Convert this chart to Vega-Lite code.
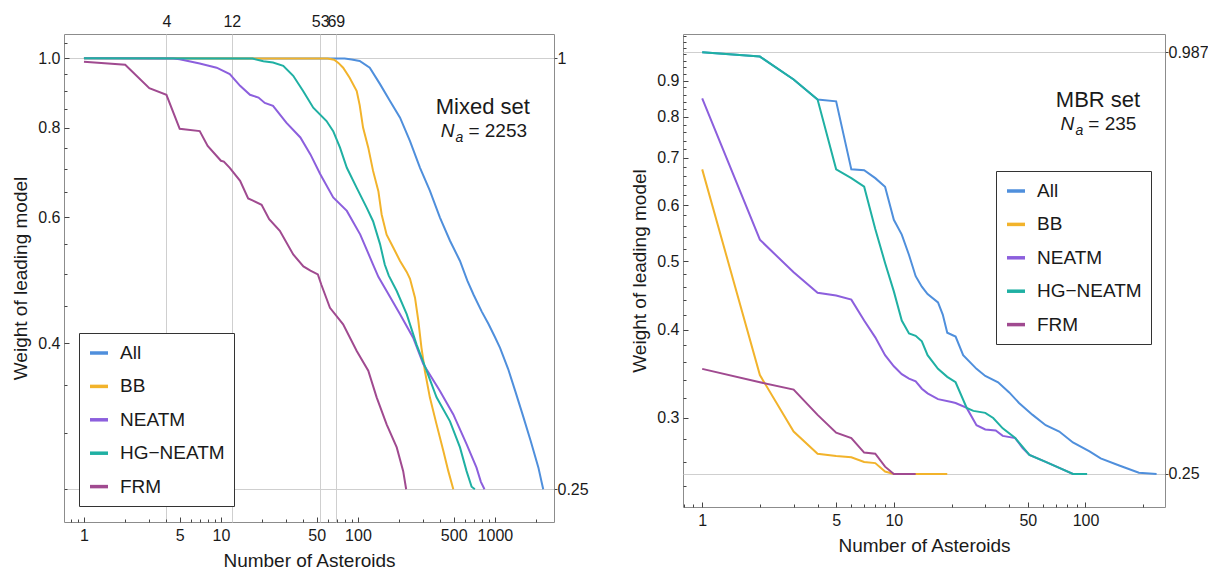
{
  "$schema": "https://vega.github.io/schema/vega-lite/v6.json",
  "background": "white",
  "padding": {"left": 11, "top": 12, "right": 0, "bottom": 0},
  "spacing": 41,
  "config": {
    "font": "Liberation Sans",
    "view": {"stroke": "#8c8c8c", "strokeWidth": 1},
    "axis": {"domain": false, "labelFont": "Liberation Sans", "labelFontSize": 16, "labelColor": "#1a1a1a", "tickColor": "#444444", "titleFont": "Liberation Sans", "titleFontSize": 19, "titleFontWeight": "normal", "titleColor": "#1a1a1a", "labelOverlap": false, "labelFlush": false, "labelBound": false, "gridColor": "#cfcfcf", "gridWidth": 1},
    "legend": {"labelFont": "Liberation Sans", "labelFontSize": 19, "labelColor": "#1a1a1a", "symbolType": "stroke", "symbolStrokeWidth": 3.5, "symbolSize": 324, "strokeColor": "#333333", "padding": 9, "rowPadding": 12.4, "labelOffset": 10, "fillColor": "white"}
  },
  "resolve": {"scale": {"color": "independent"}, "legend": {"color": "independent"}},
  "datasets": {
    "left": [
      {"m":"All","n":1,"w":1.0},{"m":"All","n":80,"w":0.999},{"m":"All","n":90,"w":0.996},{"m":"All","n":103,"w":0.991},{"m":"All","n":122,"w":0.970},{"m":"All","n":145,"w":0.92},{"m":"All","n":171,"w":0.872},{"m":"All","n":203,"w":0.826},{"m":"All","n":240,"w":0.766},{"m":"All","n":284,"w":0.703},{"m":"All","n":335,"w":0.653},{"m":"All","n":397,"w":0.599},{"m":"All","n":470,"w":0.556},{"m":"All","n":556,"w":0.521},{"m":"All","n":629,"w":0.489},{"m":"All","n":700,"w":0.467},{"m":"All","n":800,"w":0.443},{"m":"All","n":900,"w":0.425},{"m":"All","n":1000,"w":0.408},{"m":"All","n":1090,"w":0.394},{"m":"All","n":1250,"w":0.368},{"m":"All","n":1406,"w":0.343},{"m":"All","n":1600,"w":0.317},{"m":"All","n":1825,"w":0.292},{"m":"All","n":2078,"w":0.268},{"m":"All","n":2200,"w":0.255},{"m":"All","n":2253,"w":0.25},
      {"m":"BB","n":1,"w":1.0},{"m":"BB","n":60,"w":0.999},{"m":"BB","n":67,"w":0.995},{"m":"BB","n":72,"w":0.985},{"m":"BB","n":78,"w":0.970},{"m":"BB","n":87,"w":0.939},{"m":"BB","n":98,"w":0.90},{"m":"BB","n":103,"w":0.86},{"m":"BB","n":109,"w":0.80},{"m":"BB","n":119,"w":0.75},{"m":"BB","n":129,"w":0.696},{"m":"BB","n":141,"w":0.652},{"m":"BB","n":149,"w":0.605},{"m":"BB","n":162,"w":0.567},{"m":"BB","n":181,"w":0.544},{"m":"BB","n":203,"w":0.521},{"m":"BB","n":227,"w":0.503},{"m":"BB","n":240,"w":0.492},{"m":"BB","n":261,"w":0.463},{"m":"BB","n":276,"w":0.430},{"m":"BB","n":291,"w":0.394},{"m":"BB","n":308,"w":0.366},{"m":"BB","n":335,"w":0.336},{"m":"BB","n":375,"w":0.308},{"m":"BB","n":420,"w":0.283},{"m":"BB","n":457,"w":0.265},{"m":"BB","n":497,"w":0.25},
      {"m":"NEATM","n":1,"w":1.0},{"m":"NEATM","n":4.5,"w":0.999},{"m":"NEATM","n":5,"w":0.997},{"m":"NEATM","n":7,"w":0.983},{"m":"NEATM","n":9.3,"w":0.970},{"m":"NEATM","n":11.6,"w":0.95},{"m":"NEATM","n":13.8,"w":0.915},{"m":"NEATM","n":16.3,"w":0.889},{"m":"NEATM","n":18.8,"w":0.881},{"m":"NEATM","n":20.9,"w":0.866},{"m":"NEATM","n":24,"w":0.858},{"m":"NEATM","n":30,"w":0.813},{"m":"NEATM","n":38,"w":0.775},{"m":"NEATM","n":45,"w":0.734},{"m":"NEATM","n":53,"w":0.689},{"m":"NEATM","n":66,"w":0.639},{"m":"NEATM","n":83,"w":0.612},{"m":"NEATM","n":104,"w":0.567},{"m":"NEATM","n":129,"w":0.515},{"m":"NEATM","n":141,"w":0.495},{"m":"NEATM","n":162,"w":0.473},{"m":"NEATM","n":203,"w":0.439},{"m":"NEATM","n":253,"w":0.407},{"m":"NEATM","n":300,"w":0.374},{"m":"NEATM","n":397,"w":0.343},{"m":"NEATM","n":497,"w":0.318},{"m":"NEATM","n":621,"w":0.289},{"m":"NEATM","n":734,"w":0.268},{"m":"NEATM","n":790,"w":0.256},{"m":"NEATM","n":839,"w":0.25},
      {"m":"HG−NEATM","n":1,"w":1.0},{"m":"HG−NEATM","n":17,"w":0.999},{"m":"HG−NEATM","n":20.4,"w":0.99},{"m":"HG−NEATM","n":24,"w":0.986},{"m":"HG−NEATM","n":28.5,"w":0.976},{"m":"HG−NEATM","n":33.7,"w":0.945},{"m":"HG−NEATM","n":39.8,"w":0.90},{"m":"HG−NEATM","n":47.2,"w":0.853},{"m":"HG−NEATM","n":59,"w":0.817},{"m":"HG−NEATM","n":66,"w":0.791},{"m":"HG−NEATM","n":74,"w":0.75},{"m":"HG−NEATM","n":83,"w":0.703},{"m":"HG−NEATM","n":98,"w":0.659},{"m":"HG−NEATM","n":116,"w":0.618},{"m":"HG−NEATM","n":129,"w":0.592},{"m":"HG−NEATM","n":145,"w":0.55},{"m":"HG−NEATM","n":157,"w":0.515},{"m":"HG−NEATM","n":168,"w":0.497},{"m":"HG−NEATM","n":192,"w":0.473},{"m":"HG−NEATM","n":227,"w":0.439},{"m":"HG−NEATM","n":268,"w":0.398},{"m":"HG−NEATM","n":317,"w":0.366},{"m":"HG−NEATM","n":375,"w":0.336},{"m":"HG−NEATM","n":470,"w":0.311},{"m":"HG−NEATM","n":556,"w":0.286},{"m":"HG−NEATM","n":621,"w":0.265},{"m":"HG−NEATM","n":676,"w":0.252},{"m":"HG−NEATM","n":714,"w":0.25},
      {"m":"FRM","n":1,"w":0.989},{"m":"FRM","n":2,"w":0.979},{"m":"FRM","n":3,"w":0.908},{"m":"FRM","n":4,"w":0.889},{"m":"FRM","n":5,"w":0.797},{"m":"FRM","n":7,"w":0.791},{"m":"FRM","n":8,"w":0.754},{"m":"FRM","n":10,"w":0.719},{"m":"FRM","n":10.5,"w":0.717},{"m":"FRM","n":11.6,"w":0.703},{"m":"FRM","n":13.8,"w":0.674},{"m":"FRM","n":15.8,"w":0.637},{"m":"FRM","n":17,"w":0.633},{"m":"FRM","n":19.8,"w":0.624},{"m":"FRM","n":22.5,"w":0.596},{"m":"FRM","n":26.9,"w":0.574},{"m":"FRM","n":33.7,"w":0.532},{"m":"FRM","n":40,"w":0.512},{"m":"FRM","n":45,"w":0.505},{"m":"FRM","n":51,"w":0.499},{"m":"FRM","n":54,"w":0.483},{"m":"FRM","n":62.5,"w":0.448},{"m":"FRM","n":78,"w":0.425},{"m":"FRM","n":98,"w":0.390},{"m":"FRM","n":119,"w":0.366},{"m":"FRM","n":137,"w":0.336},{"m":"FRM","n":162,"w":0.308},{"m":"FRM","n":192,"w":0.286},{"m":"FRM","n":214,"w":0.265},{"m":"FRM","n":225,"w":0.25}
    ],
    "right": [
      {"m":"All","n":1,"w":0.987},{"m":"All","n":2,"w":0.973},{"m":"All","n":3,"w":0.903},{"m":"All","n":4,"w":0.846},{"m":"All","n":5,"w":0.841},{"m":"All","n":6,"w":0.674},{"m":"All","n":7,"w":0.672},{"m":"All","n":8,"w":0.655},{"m":"All","n":9,"w":0.637},{"m":"All","n":10,"w":0.572},{"m":"All","n":11,"w":0.545},{"m":"All","n":12,"w":0.51},{"m":"All","n":13,"w":0.476},{"m":"All","n":14,"w":0.46},{"m":"All","n":15,"w":0.449},{"m":"All","n":17,"w":0.437},{"m":"All","n":18,"w":0.42},{"m":"All","n":19,"w":0.396},{"m":"All","n":21,"w":0.391},{"m":"All","n":23,"w":0.368},{"m":"All","n":27,"w":0.352},{"m":"All","n":30,"w":0.344},{"m":"All","n":35,"w":0.337},{"m":"All","n":40,"w":0.326},{"m":"All","n":45,"w":0.315},{"m":"All","n":53,"w":0.303},{"m":"All","n":62,"w":0.293},{"m":"All","n":73,"w":0.287},{"m":"All","n":86,"w":0.277},{"m":"All","n":105,"w":0.269},{"m":"All","n":120,"w":0.263},{"m":"All","n":150,"w":0.257},{"m":"All","n":190,"w":0.251},{"m":"All","n":235,"w":0.25},
      {"m":"BB","n":1,"w":0.674},{"m":"BB","n":2,"w":0.345},{"m":"BB","n":3,"w":0.287},{"m":"BB","n":4,"w":0.267},{"m":"BB","n":5,"w":0.265},{"m":"BB","n":6,"w":0.264},{"m":"BB","n":7,"w":0.26},{"m":"BB","n":8,"w":0.259},{"m":"BB","n":9,"w":0.252},{"m":"BB","n":10,"w":0.25},{"m":"BB","n":19,"w":0.25},
      {"m":"NEATM","n":1,"w":0.849},{"m":"NEATM","n":2,"w":0.536},{"m":"NEATM","n":3,"w":0.482},{"m":"NEATM","n":4,"w":0.451},{"m":"NEATM","n":5,"w":0.447},{"m":"NEATM","n":6,"w":0.441},{"m":"NEATM","n":7,"w":0.412},{"m":"NEATM","n":8,"w":0.39},{"m":"NEATM","n":9,"w":0.368},{"m":"NEATM","n":10,"w":0.355},{"m":"NEATM","n":11,"w":0.346},{"m":"NEATM","n":12,"w":0.341},{"m":"NEATM","n":13,"w":0.338},{"m":"NEATM","n":14,"w":0.33},{"m":"NEATM","n":15,"w":0.325},{"m":"NEATM","n":17,"w":0.319},{"m":"NEATM","n":20,"w":0.316},{"m":"NEATM","n":21,"w":0.315},{"m":"NEATM","n":24,"w":0.31},{"m":"NEATM","n":27,"w":0.293},{"m":"NEATM","n":30,"w":0.289},{"m":"NEATM","n":34,"w":0.288},{"m":"NEATM","n":37,"w":0.283},{"m":"NEATM","n":43,"w":0.281},{"m":"NEATM","n":47,"w":0.272},{"m":"NEATM","n":51,"w":0.266},{"m":"NEATM","n":62,"w":0.26},{"m":"NEATM","n":73,"w":0.255},{"m":"NEATM","n":86,"w":0.25},{"m":"NEATM","n":95,"w":0.25},
      {"m":"HG−NEATM","n":1,"w":0.987},{"m":"HG−NEATM","n":2,"w":0.973},{"m":"HG−NEATM","n":3,"w":0.903},{"m":"HG−NEATM","n":4,"w":0.846},{"m":"HG−NEATM","n":5,"w":0.674},{"m":"HG−NEATM","n":6,"w":0.655},{"m":"HG−NEATM","n":7,"w":0.637},{"m":"HG−NEATM","n":8,"w":0.555},{"m":"HG−NEATM","n":9,"w":0.497},{"m":"HG−NEATM","n":10,"w":0.453},{"m":"HG−NEATM","n":11,"w":0.412},{"m":"HG−NEATM","n":12,"w":0.395},{"m":"HG−NEATM","n":13,"w":0.392},{"m":"HG−NEATM","n":14,"w":0.385},{"m":"HG−NEATM","n":15,"w":0.368},{"m":"HG−NEATM","n":17,"w":0.352},{"m":"HG−NEATM","n":19,"w":0.343},{"m":"HG−NEATM","n":21,"w":0.337},{"m":"HG−NEATM","n":24,"w":0.31},{"m":"HG−NEATM","n":26,"w":0.307},{"m":"HG−NEATM","n":30,"w":0.305},{"m":"HG−NEATM","n":33,"w":0.30},{"m":"HG−NEATM","n":37,"w":0.29},{"m":"HG−NEATM","n":43,"w":0.281},{"m":"HG−NEATM","n":51,"w":0.266},{"m":"HG−NEATM","n":62,"w":0.26},{"m":"HG−NEATM","n":73,"w":0.255},{"m":"HG−NEATM","n":86,"w":0.25},{"m":"HG−NEATM","n":102,"w":0.25},
      {"m":"FRM","n":1,"w":0.352},{"m":"FRM","n":2,"w":0.337},{"m":"FRM","n":3,"w":0.329},{"m":"FRM","n":4,"w":0.303},{"m":"FRM","n":5,"w":0.286},{"m":"FRM","n":6,"w":0.281},{"m":"FRM","n":7,"w":0.268},{"m":"FRM","n":8,"w":0.267},{"m":"FRM","n":9,"w":0.256},{"m":"FRM","n":10,"w":0.25},{"m":"FRM","n":13,"w":0.25}
    ]
  },
  "hconcat": [
    {
      "width": 490,
      "height": 488,
      "data": {"name": "left"},
      "resolve": {"axis": {"x": "independent", "y": "independent"}},
      "layer": [
        {
          "mark": {"type": "line", "opacity": 0},
          "encoding": {
            "x": {"field": "n", "type": "quantitative", "scale": {"type": "log", "domain": [0.715, 2700], "nice": false}, "axis": {"orient": "bottom", "values": [0.8,0.9,2,3,4,6,7,8,9,20,30,40,60,70,80,90,200,300,400,600,700,800,900,2000], "labels": false, "tickSize": -3, "grid": false, "title": null}},
            "y": {"field": "w", "type": "quantitative", "scale": {"type": "log", "domain": [0.225, 1.081], "nice": false}, "axis": {"orient": "left", "values": [0.25,0.3,0.35,0.45,0.5,0.55,0.65,0.7,0.75,0.85,0.9,0.95,1.05], "labels": false, "tickSize": -3, "grid": false, "title": null}},
            "detail": {"field": "m"}
          }
        },
        {
          "mark": {"type": "line", "opacity": 0},
          "encoding": {
            "x": {"field": "n", "type": "quantitative", "scale": {"type": "log", "domain": [0.715, 2700], "nice": false}, "axis": {"orient": "top", "values": [4,12,53,69], "format": "d", "tickSize": 0, "labelPadding": 5, "grid": true, "title": null}},
            "y": {"field": "w", "type": "quantitative", "scale": {"type": "log", "domain": [0.225, 1.081], "nice": false}, "axis": {"orient": "right", "values": [0.25, 1], "format": "~g", "tickSize": 3, "labelPadding": 0, "grid": true, "title": null}},
            "detail": {"field": "m"}
          }
        },
        {
          "mark": {"type": "line", "strokeWidth": 2},
          "encoding": {
            "x": {"field": "n", "type": "quantitative", "scale": {"type": "log", "domain": [0.715, 2700], "nice": false}, "axis": {"orient": "bottom", "values": [1,5,10,50,100,500,1000], "format": "d", "tickSize": -5, "labelPadding": 10, "grid": false, "title": "Number of Asteroids", "titlePadding": 8}},
            "y": {"field": "w", "type": "quantitative", "scale": {"type": "log", "domain": [0.225, 1.081], "nice": false}, "axis": {"orient": "left", "values": [0.4,0.6,0.8,1.0], "format": ".1f", "tickSize": -5, "labelPadding": 9, "grid": false, "title": "Weight of leading model", "titlePadding": 7}},
            "color": {"field": "m", "type": "nominal", "sort": null, "scale": {"domain": ["All","BB","NEATM","HG−NEATM","FRM"], "range": ["#4f8fdc","#f2b32b","#8c5fdd","#1fb0a3","#a04a90"]}, "legend": {"title": null, "orient": "none", "legendX": 15, "legendY": 299}}
          }
        },
        {
          "data": {"values": [{}]},
          "mark": {"type": "text", "align": "right", "baseline": "alphabetic", "fontSize": 22, "font": "Liberation Sans", "color": "#1a1a1a"},
          "encoding": {
            "x": {"datum": 1800, "type": "quantitative", "axis": null},
            "y": {"datum": 0.835, "type": "quantitative", "axis": null},
            "text": {"value": "Mixed set"}
          }
        },
        {
          "data": {"values": [{}]},
          "mark": {"type": "text", "align": "right", "baseline": "alphabetic", "fontSize": 19, "fontStyle": "italic", "dx": -9, "font": "Liberation Sans", "color": "#1a1a1a"},
          "encoding": {
            "x": {"datum": 589, "type": "quantitative", "axis": null},
            "y": {"datum": 0.775, "type": "quantitative", "axis": null},
            "text": {"value": "N"}
          }
        },
        {
          "data": {"values": [{}]},
          "mark": {"type": "text", "align": "right", "baseline": "alphabetic", "fontSize": 14, "fontStyle": "italic", "dy": 5, "font": "Liberation Sans", "color": "#1a1a1a"},
          "encoding": {
            "x": {"datum": 589, "type": "quantitative", "axis": null},
            "y": {"datum": 0.775, "type": "quantitative", "axis": null},
            "text": {"value": "a"}
          }
        },
        {
          "data": {"values": [{}]},
          "mark": {"type": "text", "align": "left", "baseline": "alphabetic", "fontSize": 19, "dx": 5, "font": "Liberation Sans", "color": "#1a1a1a"},
          "encoding": {
            "x": {"datum": 589, "type": "quantitative", "axis": null},
            "y": {"datum": 0.775, "type": "quantitative", "axis": null},
            "text": {"value": "= 2253"}
          }
        }
      ]
    },
    {
      "width": 482,
      "height": 473,
      "data": {"name": "right"},
      "resolve": {"axis": {"x": "independent", "y": "independent"}},
      "layer": [
        {
          "mark": {"type": "line", "opacity": 0},
          "encoding": {
            "x": {"field": "n", "type": "quantitative", "scale": {"type": "log", "domain": [0.794, 260], "nice": false}, "axis": {"orient": "bottom", "values": [0.8,0.9,2,3,4,6,7,8,9,20,30,40,60,70,80,90,200], "labels": false, "tickSize": -3, "grid": false, "title": null}},
            "y": {"field": "w", "type": "quantitative", "scale": {"type": "log", "domain": [0.2245, 1.0473], "nice": false}, "axis": {"orient": "left", "values": [0.24,0.26,0.28,0.32,0.34,0.36,0.38,0.42,0.44,0.46,0.48,0.52,0.54,0.56,0.58,0.62,0.64,0.66,0.68,0.72,0.74,0.76,0.78,0.82,0.84,0.86,0.88,0.92,0.94,0.96,0.98,1.0,1.02,1.04], "labels": false, "tickSize": -3, "grid": false, "title": null}},
            "detail": {"field": "m"}
          }
        },
        {
          "mark": {"type": "line", "opacity": 0},
          "encoding": {
            "x": {"field": "n", "type": "quantitative", "scale": {"type": "log", "domain": [0.794, 260], "nice": false}, "axis": null},
            "y": {"field": "w", "type": "quantitative", "scale": {"type": "log", "domain": [0.2245, 1.0473], "nice": false}, "axis": {"orient": "right", "values": [0.25, 0.987], "format": "~g", "tickSize": 3, "labelPadding": 0, "grid": true, "title": null}},
            "detail": {"field": "m"}
          }
        },
        {
          "mark": {"type": "line", "strokeWidth": 2},
          "encoding": {
            "x": {"field": "n", "type": "quantitative", "scale": {"type": "log", "domain": [0.794, 260], "nice": false}, "axis": {"orient": "bottom", "values": [1,5,10,50,100], "format": "d", "tickSize": -5, "labelPadding": 10, "grid": false, "title": "Number of Asteroids", "titlePadding": 8}},
            "y": {"field": "w", "type": "quantitative", "scale": {"type": "log", "domain": [0.2245, 1.0473], "nice": false}, "axis": {"orient": "left", "values": [0.3,0.4,0.5,0.6,0.7,0.8,0.9], "format": ".1f", "tickSize": -5, "labelPadding": 9, "grid": false, "title": "Weight of leading model", "titlePadding": 7}},
            "color": {"field": "m", "type": "nominal", "sort": null, "scale": {"domain": ["All","BB","NEATM","HG−NEATM","FRM"], "range": ["#4f8fdc","#f2b32b","#8c5fdd","#1fb0a3","#a04a90"]}, "legend": {"title": null, "orient": "none", "legendX": 313, "legendY": 137}}
          }
        },
        {
          "data": {"values": [{}]},
          "mark": {"type": "text", "align": "right", "baseline": "alphabetic", "fontSize": 22, "font": "Liberation Sans", "color": "#1a1a1a"},
          "encoding": {
            "x": {"datum": 193, "type": "quantitative", "axis": null},
            "y": {"datum": 0.825, "type": "quantitative", "axis": null},
            "text": {"value": "MBR set"}
          }
        },
        {
          "data": {"values": [{}]},
          "mark": {"type": "text", "align": "right", "baseline": "alphabetic", "fontSize": 19, "fontStyle": "italic", "dx": -9, "font": "Liberation Sans", "color": "#1a1a1a"},
          "encoding": {
            "x": {"datum": 97.4, "type": "quantitative", "axis": null},
            "y": {"datum": 0.767, "type": "quantitative", "axis": null},
            "text": {"value": "N"}
          }
        },
        {
          "data": {"values": [{}]},
          "mark": {"type": "text", "align": "right", "baseline": "alphabetic", "fontSize": 14, "fontStyle": "italic", "dy": 5, "font": "Liberation Sans", "color": "#1a1a1a"},
          "encoding": {
            "x": {"datum": 97.4, "type": "quantitative", "axis": null},
            "y": {"datum": 0.767, "type": "quantitative", "axis": null},
            "text": {"value": "a"}
          }
        },
        {
          "data": {"values": [{}]},
          "mark": {"type": "text", "align": "left", "baseline": "alphabetic", "fontSize": 19, "dx": 5, "font": "Liberation Sans", "color": "#1a1a1a"},
          "encoding": {
            "x": {"datum": 97.4, "type": "quantitative", "axis": null},
            "y": {"datum": 0.767, "type": "quantitative", "axis": null},
            "text": {"value": "= 235"}
          }
        }
      ]
    }
  ]
}
